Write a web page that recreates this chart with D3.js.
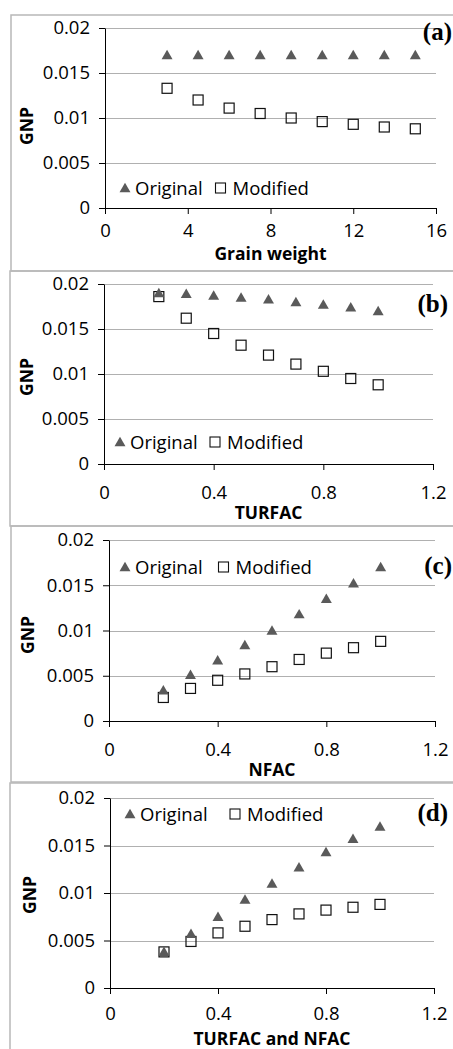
<!DOCTYPE html>
<html>
<head>
<meta charset="utf-8">
<script src="https://cdn.jsdelivr.net/npm/d3@7"></script>
<style>
  html, body { margin: 0; padding: 0; background: #fff; }
  svg { display: block; }
  .tick text { font-family: "Open Sans", sans-serif; font-size: 18.5px; fill: #000; }
</style>
</head>
<body>
<svg id="chart" width="453" height="1049"></svg>
<script>
// GNP response of the original and modified formulations
const yTicks = [0, 0.005, 0.01, 0.015, 0.02];
const gwTicks = [0, 4, 8, 12, 16];
const facTicks = [0, 0.4, 0.8, 1.2];

const gwX = [3, 4.5, 6, 7.5, 9, 10.5, 12, 13.5, 15];
const gwOriginal = [0.017, 0.017, 0.017, 0.017, 0.017, 0.017, 0.017, 0.017, 0.017];
const gwModified = [0.0133, 0.0120, 0.0111, 0.0105, 0.0100, 0.0096, 0.0093, 0.0090, 0.0088];

const facX = [0.2, 0.3, 0.4, 0.5, 0.6, 0.7, 0.8, 0.9, 1.0];
const turfacOriginal = [0.0190, 0.0189, 0.0187, 0.0185, 0.0183, 0.0180, 0.0177, 0.0174, 0.0170];
const turfacModified = [0.0186, 0.0162, 0.0145, 0.0132, 0.0121, 0.0111, 0.0103, 0.0095, 0.0088];
const nfacOriginal = [0.0034, 0.0051, 0.0067, 0.0084, 0.0100, 0.0118, 0.0135, 0.0152, 0.0170];
const nfacModified = [0.0026, 0.0036, 0.0045, 0.0052, 0.0060, 0.0068, 0.0075, 0.0081, 0.0088];
const bothOriginal = [0.0038, 0.0057, 0.0075, 0.0093, 0.0110, 0.0127, 0.0143, 0.0157, 0.0170];
const bothModified = [0.0038, 0.0049, 0.0058, 0.0065, 0.0072, 0.0078, 0.0082, 0.0085, 0.0088];

const seriesNames = ["Original", "Modified"];
const panelTags = ["(a)", "(b)", "(c)", "(d)"];
const axisTitles = ["Grain weight", "TURFAC", "NFAC", "TURFAC and NFAC"];

// layout of the four stacked panels
const panels = [
  { x: gwX, orig: gwOriginal, mod: gwModified, xMax: 16, xTicks: gwTicks,
    frame: [11, 15, 470, 256], left: 105, right: 436, top: 28, bottom: 208,
    tickBase: 237, titleBase: 260, tagX: 452, tagY: 40, gnpX: 27, gnpY: 126,
    legTri: 125, legSq: 220.5, legY: 188 },
  { x: facX, orig: turfacOriginal, mod: turfacModified, xMax: 1.2, xTicks: facTicks,
    frame: [10, 271, 470, 255], left: 104, right: 433, top: 284, bottom: 464,
    tickBase: 499, titleBase: 519, tagX: 448, tagY: 312, gnpX: 27, gnpY: 377,
    legTri: 120, legSq: 215, legY: 442 },
  { x: facX, orig: nfacOriginal, mod: nfacModified, xMax: 1.2, xTicks: facTicks,
    frame: [11, 526, 470, 256], left: 109, right: 435, top: 540, bottom: 721,
    tickBase: 756, titleBase: 776, tagX: 452, tagY: 574, gnpX: 28, gnpY: 635,
    legTri: 125, legSq: 223.5, legY: 567 },
  { x: facX, orig: bothOriginal, mod: bothModified, xMax: 1.2, xTicks: facTicks,
    frame: [10, 783, 470, 300], left: 110, right: 434, top: 798, bottom: 988,
    tickBase: 1020, titleBase: 1045, tagX: 448, tagY: 821, gnpX: 30, gnpY: 895,
    legTri: 130, legSq: 235, legY: 814 }
];

const svg = d3.select("#chart");
const triColor = "#5a5a5a";
const triangle = d3.symbol().type(d3.symbolTriangle).size(52);
const sqSize = 10;

panels.forEach((p, i) => {
  const g = svg.append("g");

  g.append("rect")
    .attr("x", p.frame[0]).attr("y", p.frame[1])
    .attr("width", p.frame[2]).attr("height", p.frame[3])
    .attr("fill", "none").attr("stroke", "#b8b8b8").attr("stroke-width", 1.5);

  const x = d3.scaleLinear().domain([0, p.xMax]).range([p.left, p.right]);
  const y = d3.scaleLinear().domain([0, 0.02]).range([p.bottom, p.top]);

  // horizontal gridlines
  g.append("g").selectAll("line").data(yTicks.filter(t => t > 0)).join("line")
    .attr("x1", p.left).attr("x2", p.right)
    .attr("y1", d => Math.round(y(d)) + 0.5).attr("y2", d => Math.round(y(d)) + 0.5)
    .attr("stroke", "#b0b0b0").attr("stroke-width", 1);

  // y axis
  const yAxis = g.append("g").attr("transform", `translate(${p.left},0)`)
    .call(d3.axisLeft(y).tickValues(yTicks).tickFormat(d => String(d))
      .tickSize(6).tickSizeOuter(0).tickPadding(9));
  yAxis.selectAll("line, path").attr("stroke", "#000");

  // x axis
  const xAxis = g.append("g").attr("transform", `translate(0,${p.bottom})`)
    .call(d3.axisBottom(x).tickValues(p.xTicks).tickFormat(d => String(d))
      .tickSize(6).tickSizeOuter(0).tickPadding(0));
  xAxis.selectAll("line, path").attr("stroke", "#000");
  xAxis.selectAll(".tick text").attr("dy", null).attr("y", p.tickBase - p.bottom);

  // axis titles
  g.append("text")
    .attr("x", (p.left + p.right) / 2).attr("y", p.titleBase)
    .attr("text-anchor", "middle")
    .style("font-family", "'Open Sans', sans-serif").style("font-weight", "bold")
    .style("font-size", "17.5px").text(axisTitles[i]);
  g.append("text")
    .attr("transform", `translate(${p.gnpX},${p.gnpY}) rotate(-90)`)
    .attr("text-anchor", "middle").attr("dy", "0.35em")
    .style("font-family", "'Open Sans', sans-serif").style("font-weight", "bold")
    .style("font-size", "17.5px").text("GNP");

  // panel tag
  g.append("text")
    .attr("x", p.tagX).attr("y", p.tagY).attr("text-anchor", "end")
    .style("font-family", "'Liberation Serif', serif").style("font-weight", "bold")
    .style("font-size", "25px").text(panelTags[i]);

  // modified: open squares
  const pts = p.x.map((v, k) => ({ x: v, o: p.orig[k], m: p.mod[k] }));
  g.append("g").selectAll("rect").data(pts).join("rect")
    .attr("x", d => x(d.x) - sqSize / 2).attr("y", d => y(d.m) - sqSize / 2)
    .attr("width", sqSize).attr("height", sqSize)
    .attr("fill", "none").attr("stroke", "#111").attr("stroke-width", 1.2);

  // original: filled triangles
  g.append("g").selectAll("path").data(pts).join("path")
    .attr("d", triangle)
    .attr("transform", d => `translate(${x(d.x)},${y(d.o) + 1})`)
    .attr("fill", triColor);

  // legend
  const leg = g.append("g");
  leg.append("path").attr("d", triangle)
    .attr("transform", `translate(${p.legTri},${p.legY + 1})`).attr("fill", triColor);
  leg.append("text").attr("x", p.legTri + 10).attr("y", p.legY).attr("dy", "0.36em")
    .style("font-family", "'Open Sans', sans-serif").style("font-size", "18.5px")
    .text(seriesNames[0]);
  leg.append("rect")
    .attr("x", p.legSq - sqSize / 2).attr("y", p.legY - sqSize / 2)
    .attr("width", sqSize).attr("height", sqSize)
    .attr("fill", "none").attr("stroke", "#111").attr("stroke-width", 1.1);
  leg.append("text").attr("x", p.legSq + 12).attr("y", p.legY).attr("dy", "0.36em")
    .style("font-family", "'Open Sans', sans-serif").style("font-size", "18.5px")
    .text(seriesNames[1]);
});
</script>
</body>
</html>
